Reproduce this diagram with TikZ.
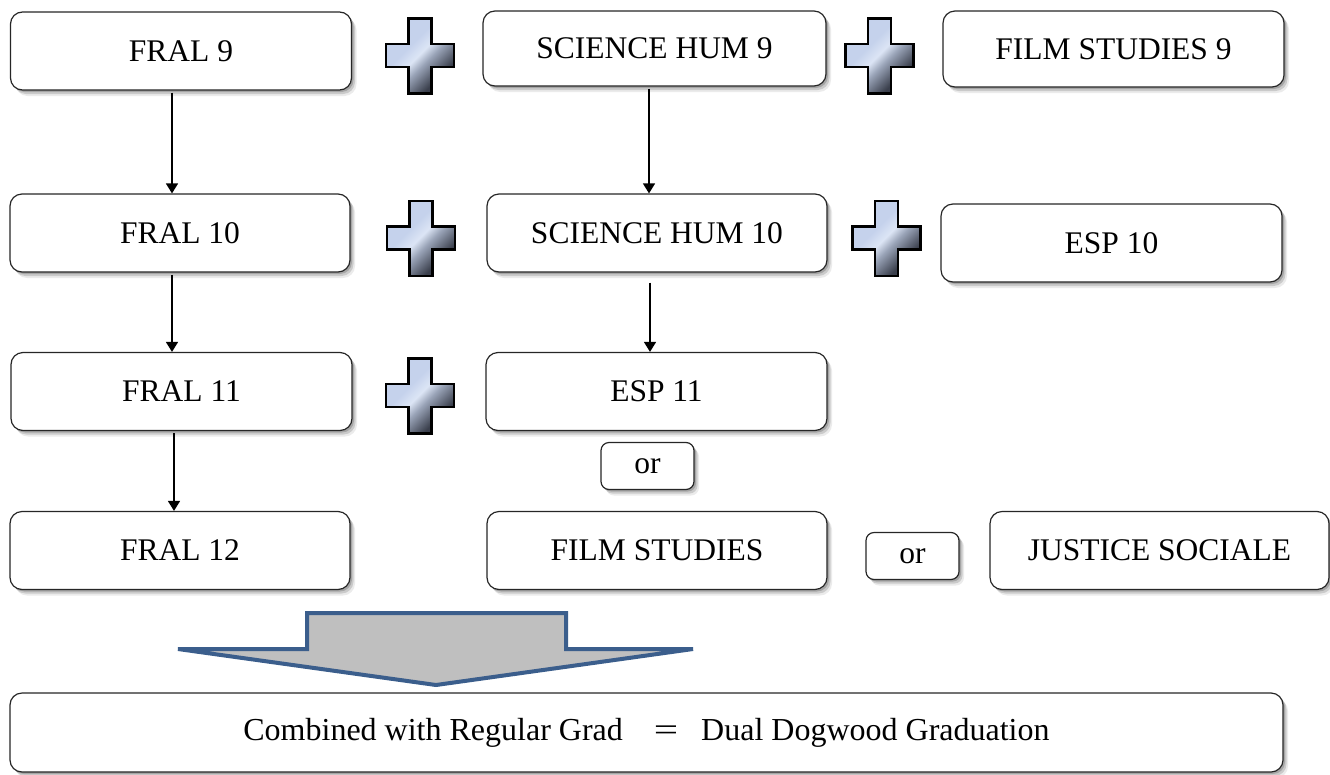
\documentclass[tikz,border=0pt]{standalone}
\usepackage{fontspec}
\usepackage{graphicx}
\setmainfont{Liberation Serif}
\usetikzlibrary{arrows.meta,shadows}
\definecolor{plustop}{HTML}{C5D2EC}
\definecolor{plushi}{HTML}{DCE5F5}
\definecolor{plusmid}{HTML}{9AA4B8}
\definecolor{plusbot}{HTML}{3A3F4C}
\definecolor{bigblue}{HTML}{3B5E8C}
\definecolor{biggray}{HTML}{BFBFBF}
\pgfdeclarehorizontalshading{plusshade}{100bp}{%
  color(0bp)=(plustop); color(40bp)=(plustop); color(49bp)=(plushi);
  color(56bp)=(plusmid); color(70bp)=(plusbot); color(100bp)=(plusbot)}
\tikzset{
  softshadow/.style={
    drop shadow={shadow xshift=2pt,shadow yshift=-2pt,opacity=0.18,fill=black},
    drop shadow={shadow xshift=3.5pt,shadow yshift=-4pt,opacity=0.14,fill=black},
    drop shadow={shadow xshift=5pt,shadow yshift=-6pt,opacity=0.08,fill=black}},
  box/.style={draw=black!85,line width=1.2pt,rounded corners=12pt,fill=white,
    softshadow,inner sep=0pt,minimum width=341pt,minimum height=78pt,
    font=\fontsize{31.5}{36}\selectfont},
  orbox/.style={box,minimum width=93pt,minimum height=47pt,rounded corners=8pt},
  arr/.style={line width=1.4pt,-{Triangle[width=12pt,length=10pt]},shorten <=2pt},
  plus/.pic={
    \draw[line width=2.4pt,shading=plusshade,shading angle=-45]
      (-11.5,-37.5) -- (11.5,-37.5) -- (11.5,-12) -- (34,-12) -- (34,11) -- (11.5,11) -- (11.5,37.5)
      -- (-11.5,37.5) -- (-11.5,11) -- (-34,11) -- (-34,-12) -- (-11.5,-12) -- cycle;}
}
\begin{document}
\begin{tikzpicture}[x=1pt,y=-1pt]
\useasboundingbox (0,0) rectangle (1330,774);
% row 1
\node[box] (f9) at (181,51) {FRAL 9};
\node[box,minimum width=343pt,minimum height=75pt] (s9) at (654.5,48.5) {SCIENCE HUM 9};
\node[box,minimum height=76pt] (fs9) at (1113.5,49) {FILM STUDIES 9};
% row 2
\node[box,minimum width=340pt] (f10) at (180,233) {FRAL 10};
\node[box,minimum width=340pt] (s10) at (657,233) {SCIENCE HUM 10};
\node[box] (e10) at (1111.5,243) {ESP 10};
% row 3
\node[box] (f11) at (181.5,391.5) {FRAL 11};
\node[box] (e11) at (656.5,391.5) {ESP 11};
\node[orbox] (or1) at (647.5,466) {or};
% row 4
\node[box,minimum width=340pt] (f12) at (180,550.5) {FRAL 12};
\node[box,minimum width=340pt] (fs) at (657,550.5) {FILM STUDIES};
\node[orbox] (or2) at (912.5,556) {or};
\node[box,minimum width=339pt] (js) at (1159.5,550.5) {JUSTICE SOCIALE};
% bottom
\node[box,minimum width=1273pt,minimum height=79pt,font=\fontsize{32}{36}\selectfont] (grad) at (646.5,732.5)
  {Combined with Regular Grad\hspace{31pt}\scalebox{1.35}[1]{=}\hspace{23pt}Dual Dogwood Graduation};
% plus signs
\pic at (420,56) {plus};
\pic at (879.5,56) {plus};
\pic at (421,238.5) {plus};
\pic at (886.5,238.5) {plus};
\pic at (420,396) {plus};
% arrows
\draw[arr] ([xshift=-9pt]f9.south) -- ([xshift=-8pt]f10.north);
\draw[arr] ([xshift=-5.5pt]s9.south) -- ([xshift=-8pt]s10.north);
\draw[arr] ([xshift=-8pt]f10.south) -- ([xshift=-9.5pt]f11.north);
\draw[arr] ([xshift=-7pt,yshift=-8pt]s10.south) -- ([xshift=-6.5pt]e11.north);
\draw[arr] ([xshift=-7.5pt]f11.south) -- ([xshift=-6pt]f12.north);
% big arrow
\draw[line width=4pt,draw=bigblue,fill=biggray,line join=miter]
  (307,649) -- (307,613) -- (566,613) -- (566,649) -- (693,649) -- (436,685) -- (178,649) -- cycle;
\end{tikzpicture}
\end{document}
